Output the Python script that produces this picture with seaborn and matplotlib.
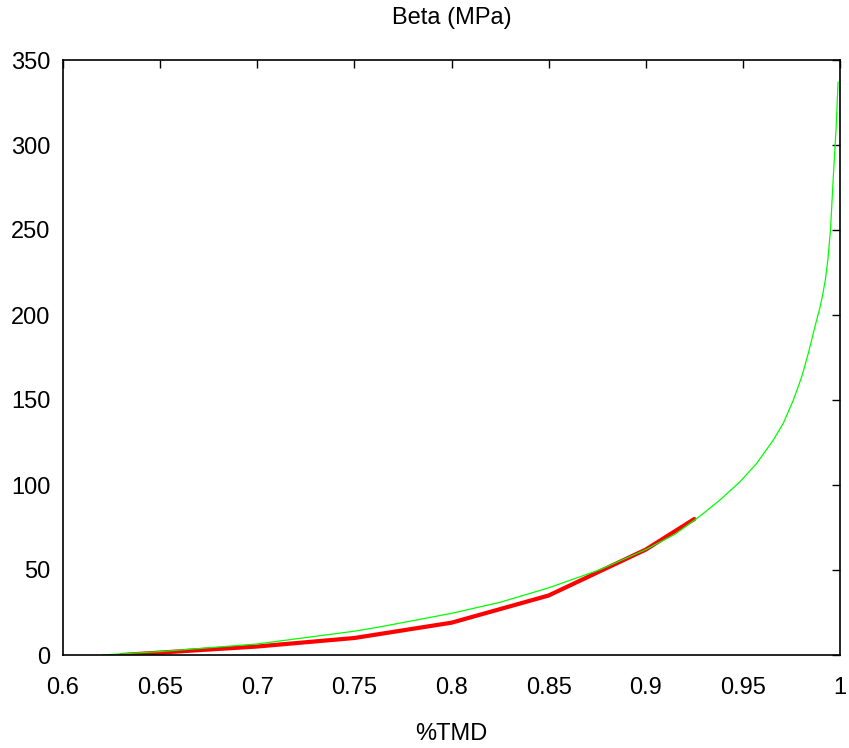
import matplotlib
matplotlib.use("Agg")
import matplotlib.pyplot as plt
from matplotlib.ticker import FuncFormatter
import seaborn as sns
import pandas as pd

# measured points (red) and fitted model curve (green)
tmd_meas = [0.63, 0.70, 0.75, 0.80, 0.85, 0.90, 0.925]
beta_meas = [0, 5, 10, 19, 35, 62, 80]

tmd_fit = [0.62, 0.65, 0.70, 0.75, 0.763, 0.80, 0.825, 0.85, 0.876, 0.90,
           0.915, 0.928, 0.938, 0.9485, 0.9571, 0.9657, 0.9708, 0.976,
           0.9803, 0.9837, 0.9871, 0.9897, 0.9911, 0.9925, 0.9938, 0.9951,
           0.9965, 0.998, 0.999]
beta_fit = [0, 2, 6.5, 14, 16.5, 24.5, 31, 39.5, 50, 62,
            71, 81.8, 91, 101.9, 112.7, 126.5, 136.3, 150,
            163.7, 177.5, 193.1, 204.5, 212, 221, 233, 250,
            280, 310, 337]

xticks = [0.6, 0.65, 0.7, 0.75, 0.8, 0.85, 0.9, 0.95, 1.0]
yticks = [0, 50, 100, 150, 200, 250, 300, 350]

sns.set_style("white")
plt.rcParams['font.family'] = ['Liberation Sans', 'DejaVu Sans']
plt.rcParams['text.color'] = 'black'

meas = pd.DataFrame({"tmd": tmd_meas, "beta": beta_meas})
fit = pd.DataFrame({"tmd": tmd_fit, "beta": beta_fit})

fig = plt.figure(figsize=(8.49, 7.48), dpi=100)
ax = fig.add_axes([63 / 849, 93 / 748, 777 / 849, 595 / 748])

sns.lineplot(data=meas, x="tmd", y="beta", color="#ff0000", linewidth=3, sort=False, ax=ax)
sns.lineplot(data=fit, x="tmd", y="beta", color="#00ff00", linewidth=0.9, sort=False, ax=ax)

ax.set_xlim(0.6, 1.0)
ax.set_ylim(0, 350)
ax.set_xticks(xticks)
ax.set_yticks(yticks)
ax.xaxis.set_major_formatter(FuncFormatter(lambda v, p: f"{v:g}"))
ax.tick_params(direction="in", length=6, width=1, top=True, right=True,
               labelsize=17, pad=9, colors="black")
ax.tick_params(axis="x", pad=16)
for s in ax.spines.values():
    s.set_linewidth(1.2)
    s.set_color("black")

ax.set_title("Beta (MPa)", fontsize=17, pad=26, color="black")
ax.set_xlabel("%TMD", fontsize=17, labelpad=17, color="black")
ax.set_ylabel("")

fig.savefig("out.png", dpi=100)
